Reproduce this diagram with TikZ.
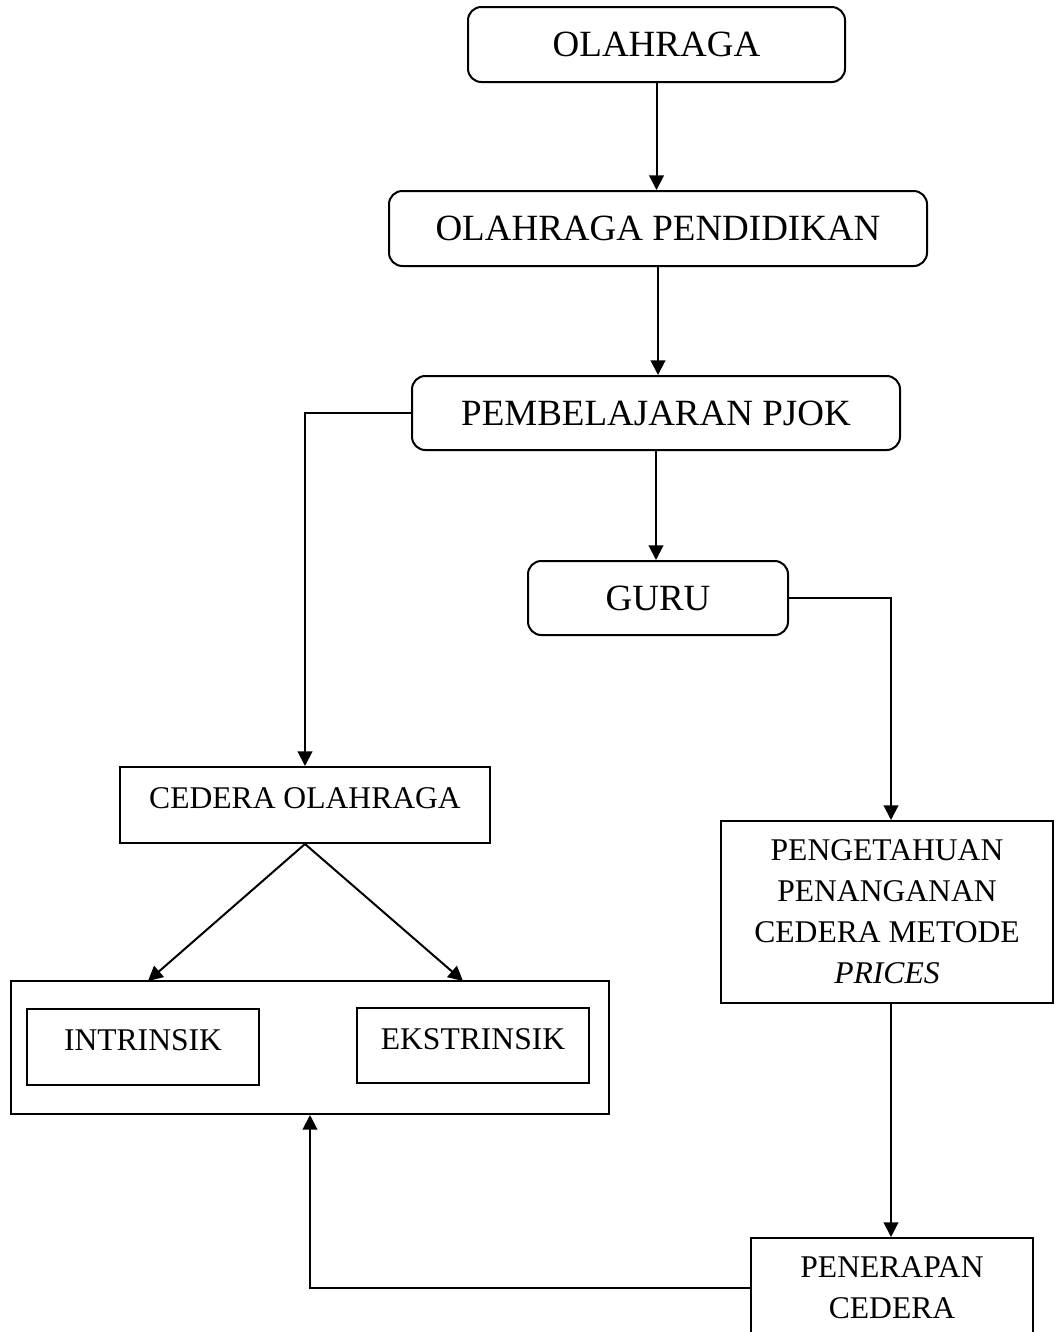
\documentclass[tikz,border=0pt]{standalone}
\usepackage{fontspec}
\setmainfont{Liberation Serif}
\usetikzlibrary{arrows.meta}
\begin{document}
\begin{tikzpicture}[x=0.75pt,y=-0.75pt,
  rbox/.style={draw, line width=1.5pt, rounded corners=10pt, inner sep=0pt,
    font=\fontsize{27.75}{33}\selectfont},
  sbox/.style={draw, line width=1.5pt, inner sep=0pt, align=center,
    font=\fontsize{23.7}{30.75}\selectfont},
  uptext/.style={text depth=10pt},
  arr/.style={line width=1.5pt, -{Triangle[length=11pt,width=11pt]}},
  ln/.style={line width=1.5pt}]
\useasboundingbox (0,0) rectangle (1057,1332);
\clip (0,0) rectangle (1057,1332);
% rounded boxes
\node[rbox, minimum width=282.75pt, minimum height=56.25pt] (olah) at (656.5,44.5) {OLAHRAGA};
\node[rbox, minimum width=403.5pt, minimum height=56.25pt] (pend) at (658,228.5) {OLAHRAGA PENDIDIKAN};
\node[rbox, minimum width=366pt, minimum height=55.5pt] (pjok) at (656,413) {PEMBELAJARAN PJOK};
\node[rbox, minimum width=195pt, minimum height=55.5pt] (guru) at (658,598) {GURU};
% square boxes
\node[sbox, uptext, minimum width=277.5pt, minimum height=57pt] (cedera) at (305,805) {CEDERA OLAHRAGA};
\node[sbox, minimum width=448.5pt, minimum height=99.75pt] (outer) at (310,1047.5) {};
\node[sbox, uptext, minimum width=174pt, minimum height=57pt] (intr) at (143,1047) {INTRINSIK};
\node[sbox, uptext, minimum width=174pt, minimum height=56.25pt] (ekst) at (473,1045.5) {EKSTRINSIK};
\node[sbox, minimum width=249pt, minimum height=136.5pt] (peng) at (887,912) {PENGETAHUAN\\PENANGANAN\\CEDERA METODE\\\textit{PRICES}};
\node[sbox, minimum width=211.5pt, minimum height=75pt] (pen) at (892,1288) {PENERAPAN\\CEDERA};
% helper coordinates
\coordinate (col) at (891,0);
\coordinate (inL) at (148,981);
\coordinate (inR) at (463,981);
% connectors
\draw[arr] (olah.south) -- (olah.south |- pend.north);
\draw[arr] (pend.south) -- (pend.south |- pjok.north);
\draw[arr] (pjok.south) -- (pjok.south |- guru.north);
\draw[arr] (pjok.west) -| (cedera.north);
\draw[arr] (guru.east) -| (col |- peng.north);
\draw[arr] (col |- peng.south) -- (col |- pen.north);
\draw[arr] (cedera.south) -- (inL);
\draw[arr] (cedera.south) -- (inR);
\draw[arr] (pen.west) -| (outer.south);
\end{tikzpicture}
\end{document}
